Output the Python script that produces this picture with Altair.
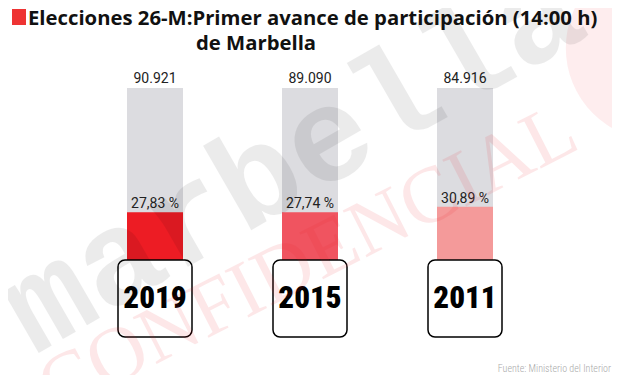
import altair as alt
import pandas as pd

years = ["2019", "2015", "2011"]
census = [90921, 89090, 84916]
participation = [27.83, 27.74, 30.89]
bar_colors = ["#ed1c24", "#f05460", "#f49a9a"]

census_labels = [f"{n:,}".replace(",", ".") for n in census]
pct_labels = [f"{p:.2f}".replace(".", ",") + " %" for p in participation]

df = pd.DataFrame({
    "year": years,
    "census": census,
    "pct": participation,
    "color": bar_colors,
    "census_label": census_labels,
    "pct_label": pct_labels,
    "full": [100] * 3,
    "zero": [0] * 3,
    "box_bottom": [-44.8] * 3,
    "box_mid": [-22.6] * 3,
})

W, H = 604, 367
xs = alt.X("year:N", sort=years, axis=None,
           scale=alt.Scale(type="point", domain=years, range=[147, 457], padding=0))
ys = alt.Scale(domain=[-66.86, 146.51], nice=False, zero=False)

base = alt.Chart(df).encode(x=xs)

one = pd.DataFrame({"a": [0]})
logo = alt.Chart(one).mark_point(shape="circle", filled=True, size=34000,
                                 color="#ee1c25", opacity=0.08).encode(
    x=alt.value(650), y=alt.value(40))
wm1 = alt.Chart(one).mark_text(text="marbella", font="'Liberation Mono'", fontSize=134,
                               fontWeight="bold", angle=330, color="#000000", opacity=0.075,
                               align="center", baseline="middle").encode(
    x=alt.value(285), y=alt.value(152))
wm2 = alt.Chart(one).mark_text(text="CONFIDENCIAL", font="'Liberation Serif'", fontSize=80,
                               angle=333, color="#ee1c25", opacity=0.1,
                               align="center", baseline="middle").encode(
    x=alt.value(300), y=alt.value(252))

grey = base.mark_bar(size=56, color="#dcdce0").encode(
    y=alt.Y("full:Q", scale=ys, axis=None), y2="zero:Q")
red = base.mark_bar(size=56).encode(
    y=alt.Y("pct:Q", scale=ys, axis=None), y2="zero:Q",
    color=alt.Color("color:N", scale=None))
box = base.mark_bar(size=74, cornerRadius=7, fill="white", stroke="black",
                    strokeWidth=1.5).encode(
    y=alt.Y("zero:Q", scale=ys, axis=None), y2="box_bottom:Q")
year_txt = base.mark_text(font="'Liberation Sans Narrow', 'Roboto Condensed', Roboto",
                          fontSize=31, fontWeight=900, color="black",
                          baseline="middle").encode(
    y=alt.Y("box_mid:Q", scale=ys, axis=None), text="year:N")
census_txt = base.mark_text(font="Roboto", fontSize=14, color="#222222",
                            baseline="alphabetic", dy=-5).encode(
    y=alt.Y("full:Q", scale=ys, axis=None), text="census_label:N")
pct_txt = base.mark_text(font="Roboto", fontSize=14, color="#222222",
                         baseline="alphabetic", dy=-4).encode(
    y=alt.Y("pct:Q", scale=ys, axis=None), text="pct_label:N")

square = alt.Chart(one).mark_rect(color="#ee3333").encode(
    x=alt.value(4), x2=alt.value(18), y=alt.value(1), y2=alt.value(17))
t1 = alt.Chart(one).mark_text(text="Elecciones 26-M:Primer avance de participación (14:00 h)",
                              font="Open Sans", fontSize=20.3, fontWeight="bold",
                              color="#111111", align="left", baseline="alphabetic").encode(
    x=alt.value(20), y=alt.value(17))
t2 = alt.Chart(one).mark_text(text="de Marbella",
                              font="Open Sans", fontSize=20.3, fontWeight="bold",
                              color="#111111", align="left", baseline="alphabetic").encode(
    x=alt.value(188), y=alt.value(42))
src = alt.Chart(one).mark_text(text="Fuente: Ministerio del Interior",
                               font="'Liberation Sans Narrow', 'Roboto Condensed', Roboto",
                               fontSize=10, fontWeight=300,
                               color="#aaaaaa", align="right", baseline="alphabetic").encode(
    x=alt.value(603), y=alt.value(364))

chart = alt.layer(grey, red, box, year_txt, census_txt, pct_txt,
                  logo, wm1, wm2, square, t1, t2, src).properties(
    width=W, height=H, padding=0,
    autosize=alt.AutoSizeParams(type="none"),
).configure_view(stroke=None)

chart.save("out.html", embed_options={"renderer": "svg", "actions": False})
